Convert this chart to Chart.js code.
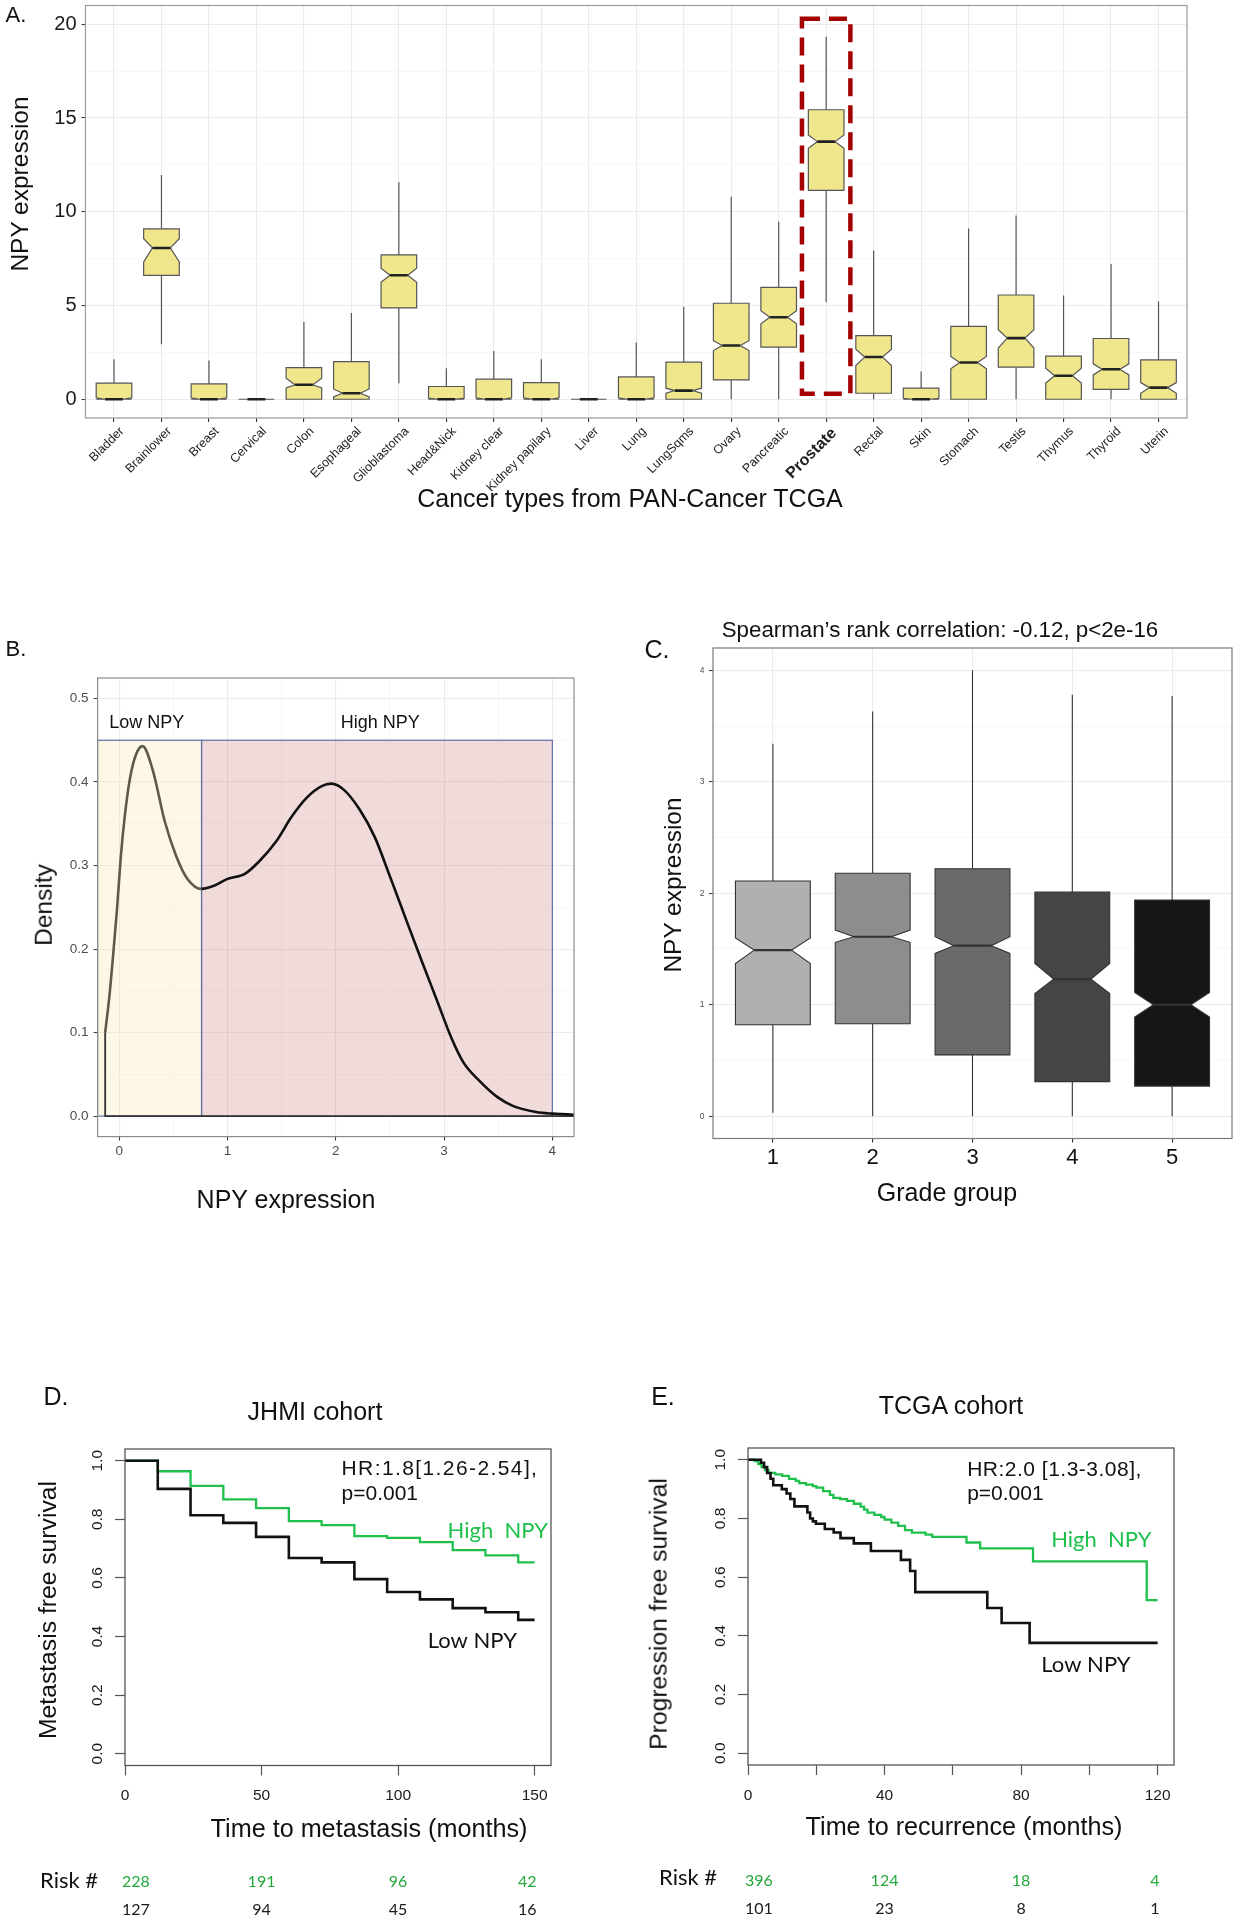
<!DOCTYPE html>
<html>
<head>
<meta charset="utf-8">
<script src="https://cdn.jsdelivr.net/npm/chart.js@4.4.1/dist/chart.umd.min.js"></script>
<style>
  html, body { margin: 0; padding: 0; background: #fff; }
  #page { position: relative; width: 1235px; height: 1920px; overflow: hidden;
          font-family: 'Liberation Sans', Arial, sans-serif; color: #111; }
  canvas { position: absolute; }
  .lbl { position: absolute; white-space: nowrap; line-height: 1; transform: translate(-50%, -50%); }
  .rot { transform: translate(-50%, -50%) rotate(-90deg); }
  .left { transform: translate(0, -50%); }
  .cal { font-family: Lato, 'Liberation Sans', sans-serif; }
</style>
</head>
<body>
<div id="page">
  <canvas id="chartA" width="1235" height="520" style="left:0;top:0"></canvas>
  <canvas id="chartB" width="620" height="600" style="left:0;top:600px"></canvas>
  <canvas id="chartC" width="615" height="600" style="left:620px;top:600px"></canvas>
  <canvas id="chartD" width="620" height="550" style="left:0;top:1370px"></canvas>
  <canvas id="chartE" width="615" height="550" style="left:620px;top:1370px"></canvas>

  <!-- panel A -->
  <div class="lbl" style="left:16px;top:15px;font-size:22px">A.</div>
  <div class="lbl rot" style="left:20px;top:184px;font-size:24.5px">NPY expression</div>
  <div class="lbl" style="left:630px;top:498px;font-size:25px">Cancer types from PAN-Cancer TCGA</div>

  <!-- panel B -->
  <div class="lbl" style="left:16px;top:649px;font-size:22px">B.</div>
  <div class="lbl rot" style="left:44px;top:905px;font-size:24.5px">Density</div>
  <div class="lbl" style="left:286px;top:1199px;font-size:25px">NPY expression</div>

  <!-- panel C -->
  <div class="lbl" style="left:657px;top:649px;font-size:25px">C.</div>
  <div class="lbl" style="left:940px;top:630px;font-size:22.3px">Spearman’s rank correlation: -0.12, p&lt;2e-16</div>
  <div class="lbl rot" style="left:673px;top:885px;font-size:24.5px">NPY expression</div>
  <div class="lbl" style="left:947px;top:1192px;font-size:25px">Grade group</div>

  <!-- panel D -->
  <div class="lbl" style="left:56px;top:1396px;font-size:25px">D.</div>
  <div class="lbl" style="left:315px;top:1411px;font-size:25px">JHMI cohort</div>
  <div class="lbl rot" style="left:48px;top:1610px;font-size:24.7px">Metastasis free survival</div>
  <div class="lbl" style="left:369px;top:1829px;font-size:25.2px">Time to metastasis (months)</div>
  <div class="lbl left cal" style="left:40px;top:1880px;font-size:22px">Risk #</div>

  <!-- panel E -->
  <div class="lbl" style="left:663px;top:1396px;font-size:25px">E.</div>
  <div class="lbl" style="left:951px;top:1405px;font-size:25px">TCGA cohort</div>
  <div class="lbl rot" style="left:659px;top:1614px;font-size:24.7px">Progression free survival</div>
  <div class="lbl" style="left:964px;top:1827px;font-size:25.2px">Time to recurrence (months)</div>
  <div class="lbl left cal" style="left:659px;top:1877px;font-size:22px">Risk #</div>
</div>

<script>
// ---------- A: NPY expression across cancer types ----------
const cancerTypes = ['Bladder', 'Brainlower', 'Breast', 'Cervical', 'Colon', 'Esophageal', 'Glioblastoma',
  'Head&Nick', 'Kidney clear', 'Kidney papilary', 'Liver', 'Lung', 'LungSqms', 'Ovary', 'Pancreatic',
  'Prostate', 'Rectal', 'Skin', 'Stomach', 'Testis', 'Thymus', 'Thyroid', 'Uterin'];
const aWhiskerLow  = [0, 2.94, 0, 0, 0, 0, 0.86, 0, 0, 0, 0, 0, 0, 0, 0, 5.17, 0, 0, 0, 0, 0, 0, 0];
const aQ1          = [0, 6.61, 0, 0, 0, 0, 4.87, 0, 0, 0, 0, 0, 0, 1.03, 2.78, 11.14, 0.32, 0, 0, 1.71, 0, 0.53, 0];
const aNotchLow    = [0, 7.33, 0, 0, 0.6, 0.12, 6.24, 0, 0, 0, 0, 0, 0.32, 2.6, 4.03, 13.39, 1.8, 0, 1.62, 2.73, 0.86, 1.3, 0.32];
const aMedian      = [0, 8.07, 0, 0, 0.77, 0.32, 6.61, 0, 0, 0, 0, 0, 0.46, 2.87, 4.37, 13.74, 2.25, 0, 1.96, 3.26, 1.25, 1.6, 0.62];
const aNotchHigh   = [0.08, 8.56, 0.08, 0, 1.12, 0.55, 6.99, 0.06, 0.08, 0.08, 0, 0.08, 0.59, 3.12, 4.72, 14.1, 2.67, 0.05, 2.28, 3.71, 1.66, 1.89, 0.89];
const aQ3          = [0.86, 9.09, 0.82, 0, 1.69, 2.01, 7.7, 0.68, 1.07, 0.89, 0, 1.19, 1.98, 5.12, 5.97, 15.44, 3.39, 0.59, 3.89, 5.56, 2.3, 3.24, 2.1];
const aWhiskerHigh = [2.14, 11.96, 2.07, 0, 4.12, 4.6, 11.57, 1.66, 2.58, 2.14, 0, 3.03, 4.94, 10.8, 9.47, 19.34, 7.93, 1.48, 9.11, 9.8, 5.53, 7.22, 5.22];
const aTicksY = [0, 2.5, 5, 7.5, 10, 12.5, 15, 17.5, 20];
const highlightType = 'Prostate';
const highlightRange = [0.3, 20.3];

// ---------- B: density of NPY expression ----------
const densityX = [-0.13, -0.09, -0.057, -0.02, 0.014, 0.05, 0.10, 0.155, 0.215, 0.31, 0.42, 0.53, 0.63, 0.76,
  0.88, 1.0, 1.16, 1.3, 1.45, 1.59, 1.73, 1.87, 1.96, 2.08, 2.22, 2.36, 2.5, 2.65, 2.79, 2.93, 3.07, 3.18,
  3.32, 3.49, 3.64, 3.85, 4.0, 4.3];
const densityY = [0.10, 0.145, 0.192, 0.249, 0.31, 0.358, 0.405, 0.433, 0.443, 0.414, 0.353, 0.31, 0.284, 0.272,
  0.276, 0.284, 0.29, 0.306, 0.329, 0.358, 0.381, 0.395, 0.398, 0.39, 0.367, 0.334, 0.287, 0.235, 0.187, 0.14, 0.093, 0.064,
  0.043, 0.023, 0.012, 0.005, 0.003, 0.001];
const densityEdgeX = [-0.13, -0.13, 4.3];
const densityEdgeY = [0.10, 0, 0];
const npyCutoff = 0.76;
const npyRegionEnd = 4.0;
const npyRegionTop = 0.45;
const bTicksX = [0, 0.5, 1, 1.5, 2, 2.5, 3, 3.5, 4];
const bTicksY = [0, 0.05, 0.1, 0.15, 0.2, 0.25, 0.3, 0.35, 0.4, 0.45, 0.5];

// ---------- C: NPY expression by grade group ----------
const gradeGroups  = ['1', '2', '3', '4', '5'];
const cWhiskerLow  = [0.03, 0, 0, 0, 0];
const cQ1          = [0.82, 0.83, 0.55, 0.31, 0.27];
const cNotchLow    = [1.37, 1.56, 1.46, 1.10, 0.89];
const cMedian      = [1.49, 1.61, 1.53, 1.23, 1.0];
const cNotchHigh   = [1.60, 1.67, 1.61, 1.37, 1.11];
const cQ3          = [2.11, 2.18, 2.22, 2.01, 1.94];
const cWhiskerHigh = [3.34, 3.63, 4.0, 3.78, 3.77];
const cTicksY = [0, 0.5, 1, 1.5, 2, 2.5, 3, 3.5, 4];

// ---------- D: JHMI cohort ----------
const dMonths    = [0, 12, 24, 36, 48, 60, 72, 84, 96, 108, 120, 132, 144, 150];
const dSurvLow   = [1.0, 0.904, 0.814, 0.788, 0.74, 0.668, 0.653, 0.596, 0.552, 0.527, 0.497, 0.483, 0.457, 0.457];
const dSurvHigh  = [1.0, 0.964, 0.914, 0.868, 0.838, 0.794, 0.78, 0.743, 0.737, 0.722, 0.695, 0.677, 0.653, 0.653];
const dRiskMonths = [0, 50, 100, 150];
const dRiskHigh  = [228, 191, 96, 42];
const dRiskLow   = [127, 94, 45, 16];
const dTicksX = [0, 50, 100, 150];

// ---------- E: TCGA cohort ----------
const eMonthsLow = [0, 3.8, 4.7, 5.6, 6.6, 7.4, 9.9, 11.3, 12.4, 13.6, 17.4, 18.2, 19.0, 19.9, 22.5, 25.1, 27.1,
  31.0, 36.0, 44.8, 47.5, 49.0, 70.1, 74.3, 82.5, 120];
const eSurvLow   = [1.0, 0.99, 0.975, 0.955, 0.935, 0.913, 0.9, 0.885, 0.866, 0.841, 0.82, 0.8, 0.79, 0.782, 0.764,
  0.752, 0.733, 0.715, 0.689, 0.659, 0.621, 0.549, 0.495, 0.444, 0.376, 0.376];
const eMonthsHigh = [0, 2, 3, 4, 5, 6, 8, 10, 12, 14, 15, 17, 19, 20, 22, 24, 25, 27, 29, 31, 33, 34, 35, 37, 39,
  40, 42, 44, 46, 48, 52, 54, 64, 68, 83.5, 116.8, 120];
const eSurvHigh  = [1.0, 0.995, 0.985, 0.975, 0.965, 0.955, 0.95, 0.945, 0.935, 0.928, 0.92, 0.915, 0.91, 0.905,
  0.893, 0.88, 0.87, 0.866, 0.86, 0.85, 0.84, 0.83, 0.82, 0.812, 0.805, 0.796, 0.786, 0.775, 0.76, 0.752, 0.745,
  0.737, 0.718, 0.698, 0.654, 0.522, 0.522];
const eRiskMonths = [0, 40, 80, 120];
const eRiskHigh  = [396, 124, 18, 4];
const eRiskLow   = [101, 23, 8, 1];
const eTicksX = [0, 20, 40, 60, 80, 100, 120];
const kmTicksY = [0, 0.2, 0.4, 0.6, 0.8, 1.0];

// ---------- shared styling ----------
const SANS = "'Liberation Sans', Arial, sans-serif";
const CAL = "Lato, 'Liberation Sans', sans-serif";
const KM_GREEN = '#1fc04c';
const RISK_GREEN = '#24a83c';
const GRID_MAJOR = '#ebebeb';
const GRID_MINOR = '#f4f4f4';

Chart.defaults.font.family = SANS;
Chart.defaults.animation = false;
Chart.defaults.plugins.legend.display = false;
Chart.defaults.plugins.tooltip.enabled = false;

// fixed axis box so the plot area lands where the figure has it
function fixedAxis(size) {
  return function (scale) {
    if (scale.isHorizontal()) scale.height = size; else scale.width = size;
    scale.paddingLeft = scale.paddingRight = scale.paddingTop = scale.paddingBottom = 0;
  };
}
function setTicks(values) {
  return function (scale) { scale.ticks = values.map(v => ({ value: v })); };
}
const isStep = (v, step) => Math.abs(v / step - Math.round(v / step)) < 1e-6;

function framePlugin(color, width) {
  return {
    id: 'frame',
    afterDatasetsDraw(chart) {
      const { ctx, chartArea: a } = chart;
      ctx.save();
      ctx.strokeStyle = color;
      ctx.lineWidth = width;
      ctx.strokeRect(a.left, a.top, a.right - a.left, a.bottom - a.top);
      ctx.restore();
    }
  };
}

// notched box plots, like ggplot geom_boxplot(notch = TRUE)
function boxPlugin(xs, s, fills, style) {
  return {
    id: 'notchedBoxes',
    beforeDatasetsDraw(chart) {
      const { ctx, chartArea: a, scales: { x, y } } = chart;
      const py = v => y.getPixelForValue(v);
      ctx.save();
      ctx.beginPath();
      ctx.rect(a.left, a.top, a.right - a.left, a.bottom - a.top);
      ctx.clip();
      xs.forEach((xv, i) => {
        const cx = x.getPixelForValue(xv);
        const xl = x.getPixelForValue(xv - style.width / 2);
        const xr = x.getPixelForValue(xv + style.width / 2);
        const ind = (xr - xl) * 0.25;

        ctx.lineWidth = style.lineWidth;
        ctx.strokeStyle = style.whisker;
        ctx.beginPath();
        ctx.moveTo(cx, py(s.q3[i])); ctx.lineTo(cx, py(s.whiskerHigh[i]));
        ctx.moveTo(cx, py(s.q1[i])); ctx.lineTo(cx, py(s.whiskerLow[i]));
        ctx.stroke();

        ctx.beginPath();
        ctx.moveTo(xl, py(s.q3[i]));
        ctx.lineTo(xl, py(s.notchHigh[i]));
        ctx.lineTo(xl + ind, py(s.median[i]));
        ctx.lineTo(xl, py(s.notchLow[i]));
        ctx.lineTo(xl, py(s.q1[i]));
        ctx.lineTo(xr, py(s.q1[i]));
        ctx.lineTo(xr, py(s.notchLow[i]));
        ctx.lineTo(xr - ind, py(s.median[i]));
        ctx.lineTo(xr, py(s.notchHigh[i]));
        ctx.lineTo(xr, py(s.q3[i]));
        ctx.closePath();
        ctx.fillStyle = fills[i];
        ctx.fill();
        ctx.strokeStyle = style.border;
        ctx.stroke();

        ctx.beginPath();
        ctx.moveTo(xl + ind, py(s.median[i]));
        ctx.lineTo(xr - ind, py(s.median[i]));
        ctx.lineWidth = style.medianWidth;
        ctx.strokeStyle = style.median;
        ctx.stroke();
      });
      ctx.restore();
    }
  };
}

function notesPlugin(notes) {
  return {
    id: 'notes',
    afterDatasetsDraw(chart) {
      const { ctx, scales: { x, y } } = chart;
      ctx.save();
      ctx.textBaseline = 'middle';
      notes.forEach(n => {
        ctx.font = n.font;
        ctx.fillStyle = n.color;
        ctx.textAlign = n.align;
        ctx.letterSpacing = n.spacing || '0px';
        ctx.fillText(n.text, x.getPixelForValue(n.x), y.getPixelForValue(n.y));
      });
      ctx.restore();
    }
  };
}

function riskPlugin(months, high, low) {
  return {
    id: 'riskTable',
    afterDraw(chart) {
      const { ctx, chartArea: a, scales: { x } } = chart;
      const last = months.length - 1;
      ctx.save();
      ctx.font = '16px ' + CAL;
      ctx.textBaseline = 'middle';
      months.forEach((m, i) => {
        ctx.textAlign = i === 0 ? 'left' : (i === last ? 'right' : 'center');
        const px = x.getPixelForValue(m) + (i === 0 ? -3 : (i === last ? 2 : 0));
        ctx.fillStyle = RISK_GREEN;
        ctx.fillText(String(high[i]), px, a.bottom + 116);
        ctx.fillStyle = '#1a1a1a';
        ctx.fillText(String(low[i]), px, a.bottom + 144);
      });
      ctx.restore();
    }
  };
}

// ggplot-like grid: lighter minor lines, tick marks only on majors
function ggGrid(step) {
  return {
    color: c => isStep(c.tick.value, step) ? GRID_MAJOR : GRID_MINOR,
    lineWidth: c => isStep(c.tick.value, step) ? 1.1 : 0.7,
    tickColor: c => isStep(c.tick.value, step) ? '#333' : 'rgba(0,0,0,0)',
    tickLength: 4,
    tickWidth: 1
  };
}

// ---------- chart A ----------
const highlightPlugin = {
  id: 'highlight',
  afterDatasetsDraw(chart) {
    const { ctx, scales: { x, y } } = chart;
    const i = cancerTypes.indexOf(highlightType);
    const l = x.getPixelForValue(i - 0.51), r = x.getPixelForValue(i + 0.51);
    const t = y.getPixelForValue(highlightRange[1]), b = y.getPixelForValue(highlightRange[0]);
    ctx.save();
    ctx.strokeStyle = '#a40000';
    ctx.lineWidth = 4.5;
    ctx.setLineDash([18, 9]);
    ctx.strokeRect(l, t, r - l, b - t);
    ctx.restore();
  }
};

new Chart(document.getElementById('chartA'), {
  type: 'scatter',
  data: {
    datasets: [{ label: 'median', data: aMedian.map((m, i) => ({ x: i, y: m })), pointRadius: 0, pointHoverRadius: 0 }]
  },
  options: {
    responsive: false,
    layout: { padding: { left: 0, top: 5.5, right: 48, bottom: 0 } },
    scales: {
      x: {
        type: 'linear', min: -0.6, max: cancerTypes.length - 0.4,
        afterBuildTicks: setTicks(cancerTypes.map((_, i) => i)),
        afterFit: fixedAxis(102),
        border: { display: false },
        grid: { color: GRID_MAJOR, lineWidth: 1.1, tickColor: '#333', tickLength: 4 },
        ticks: {
          autoSkip: false, minRotation: 45, maxRotation: 45, padding: 2, labelOffset: 8, color: '#222',
          callback: v => cancerTypes[v],
          font: c => cancerTypes[c.tick ? c.tick.value : -1] === highlightType
            ? { size: 16, weight: 'bold', family: SANS } : { size: 12.5, family: SANS }
        }
      },
      y: {
        min: -1, max: 21,
        afterBuildTicks: setTicks(aTicksY),
        afterFit: fixedAxis(85.5),
        border: { display: false },
        grid: ggGrid(5),
        ticks: { padding: 5, color: '#1a1a1a', font: { size: 20 }, callback: v => isStep(v, 5) ? v : '' }
      }
    }
  },
  plugins: [
    boxPlugin(cancerTypes.map((_, i) => i),
      { whiskerLow: aWhiskerLow, q1: aQ1, notchLow: aNotchLow, median: aMedian, notchHigh: aNotchHigh, q3: aQ3, whiskerHigh: aWhiskerHigh },
      cancerTypes.map(() => '#f0e68c'),
      { width: 0.75, lineWidth: 1.2, whisker: '#555', border: '#555', median: '#222', medianWidth: 2.6 }),
    highlightPlugin,
    framePlugin('#9a9a9a', 1.2)
  ]
});

// ---------- chart B ----------
const regionPlugin = {
  id: 'regions',
  beforeDatasetsDraw(chart) {
    const { ctx, scales: { x, y } } = chart;
    const top = y.getPixelForValue(npyRegionTop), bottom = y.getPixelForValue(0);
    const zones = [
      { from: x.getPixelForValue(x.min), to: x.getPixelForValue(npyCutoff), fill: 'rgba(250,232,170,0.30)' },
      { from: x.getPixelForValue(npyCutoff), to: x.getPixelForValue(npyRegionEnd), fill: 'rgba(195,107,107,0.25)' }
    ];
    ctx.save();
    zones.forEach(z => {
      ctx.fillStyle = z.fill;
      ctx.fillRect(z.from, top, z.to - z.from, bottom - top);
      ctx.strokeStyle = '#5b6ea6';
      ctx.lineWidth = 1.2;
      ctx.strokeRect(z.from, top, z.to - z.from, bottom - top);
    });
    ctx.restore();
  }
};

new Chart(document.getElementById('chartB'), {
  type: 'scatter',
  data: {
    datasets: [
      {
        label: 'density', data: densityX.map((v, i) => ({ x: v, y: densityY[i] })),
        showLine: true, pointRadius: 0, borderWidth: 2.6, borderColor: '#111',
        cubicInterpolationMode: 'monotone',
        segment: { borderColor: c => c.p0.parsed.x < npyCutoff - 0.001 ? '#5d5a4b' : '#111' }
      },
      {
        label: 'edge', data: densityEdgeX.map((v, i) => ({ x: v, y: densityEdgeY[i] })),
        showLine: true, pointRadius: 0, borderWidth: 1.8, borderColor: '#333'
      }
    ]
  },
  options: {
    responsive: false,
    layout: { padding: { left: 0, top: 78, right: 46, bottom: 0 } },
    scales: {
      x: {
        type: 'linear', min: -0.2, max: 4.2,
        afterBuildTicks: setTicks(bTicksX),
        afterFit: fixedAxis(63.4),
        border: { display: false },
        grid: ggGrid(1),
        ticks: { padding: 3, color: '#4d4d4d', font: { size: 13.5 }, callback: v => isStep(v, 1) ? v : '' }
      },
      y: {
        min: -0.0245, max: 0.5245,
        afterBuildTicks: setTicks(bTicksY),
        afterFit: fixedAxis(97.6),
        border: { display: false },
        grid: ggGrid(0.1),
        ticks: { padding: 5, color: '#4d4d4d', font: { size: 13.5 }, callback: v => isStep(v, 0.1) ? v.toFixed(1) : '' }
      }
    }
  },
  plugins: [
    regionPlugin,
    notesPlugin([
      { text: 'Low NPY', x: 0.254, y: 0.47, font: '18px ' + SANS, color: '#111', align: 'center' },
      { text: 'High NPY', x: 2.41, y: 0.47, font: '18px ' + SANS, color: '#111', align: 'center' }
    ]),
    framePlugin('#8c8c8c', 1.2)
  ]
});

// ---------- chart C ----------
new Chart(document.getElementById('chartC'), {
  type: 'scatter',
  data: {
    datasets: [{ label: 'median', data: cMedian.map((m, i) => ({ x: i + 1, y: m })), pointRadius: 0, pointHoverRadius: 0 }]
  },
  options: {
    responsive: false,
    layout: { padding: { left: 0, top: 48, right: 3, bottom: 0 } },
    scales: {
      x: {
        type: 'linear', min: 0.4, max: 5.6,
        afterBuildTicks: setTicks(gradeGroups.map((_, i) => i + 1)),
        afterFit: fixedAxis(61.5),
        border: { display: false },
        grid: { color: GRID_MAJOR, lineWidth: 1.1, tickColor: '#333', tickLength: 4 },
        ticks: { padding: 2, color: '#111', font: { size: 22 }, callback: v => gradeGroups[v - 1] }
      },
      y: {
        min: -0.2, max: 4.2,
        afterBuildTicks: setTicks(cTicksY),
        afterFit: fixedAxis(93),
        border: { display: false },
        grid: ggGrid(1),
        ticks: { padding: 4.5, color: '#4d4d4d', font: { size: 8.5 }, callback: v => isStep(v, 1) ? v : '' }
      }
    }
  },
  plugins: [
    boxPlugin(gradeGroups.map((_, i) => i + 1),
      { whiskerLow: cWhiskerLow, q1: cQ1, notchLow: cNotchLow, median: cMedian, notchHigh: cNotchHigh, q3: cQ3, whiskerHigh: cWhiskerHigh },
      ['#b0b0b0', '#8d8d8d', '#6a6a6a', '#454545', '#161616'],
      { width: 0.75, lineWidth: 1.1, whisker: '#333', border: '#333', median: '#333', medianWidth: 2.2 }),
    framePlugin('#7a7a7a', 1.2)
  ]
});

// ---------- charts D and E (Kaplan-Meier) ----------
function kmChart(id, cfg) {
  return new Chart(document.getElementById(id), {
    type: 'scatter',
    data: {
      datasets: [
        {
          label: 'Low NPY', data: cfg.lowX.map((m, i) => ({ x: m, y: cfg.lowY[i] })),
          showLine: true, stepped: 'before', pointRadius: 0, borderWidth: 2.6, borderColor: '#111'
        },
        {
          label: 'High NPY', data: cfg.highX.map((m, i) => ({ x: m, y: cfg.highY[i] })),
          showLine: true, stepped: 'before', pointRadius: 0, borderWidth: 2.3, borderColor: KM_GREEN
        }
      ]
    },
    options: {
      responsive: false,
      layout: { padding: cfg.padding },
      scales: {
        x: {
          type: 'linear', min: 0, max: cfg.xMax,
          afterBuildTicks: setTicks(cfg.ticksX),
          afterFit: fixedAxis(cfg.xHeight),
          border: { display: false },
          grid: { drawOnChartArea: false, tickLength: 10, tickColor: '#555', tickWidth: 1.2 },
          ticks: { padding: 11, color: '#1a1a1a', font: { size: 15.5 }, callback: v => isStep(v, cfg.labelStep) ? v : '' }
        },
        y: {
          min: -0.04, max: 1.04,
          afterBuildTicks: setTicks(kmTicksY),
          afterFit: fixedAxis(cfg.yWidth),
          border: { display: false },
          grid: { drawOnChartArea: false, tickLength: 10, tickColor: '#555', tickWidth: 1.2 },
          ticks: {
            padding: 7, color: '#1a1a1a', font: { size: 15.5 }, minRotation: 90, maxRotation: 90,
            crossAlign: 'center', callback: v => v.toFixed(1)
          }
        }
      }
    },
    plugins: [
      notesPlugin(cfg.notes),
      riskPlugin(cfg.riskMonths, cfg.riskHigh, cfg.riskLow),
      framePlugin('#555', 1.3)
    ]
  });
}

kmChart('chartD', {
  lowX: dMonths, lowY: dSurvLow, highX: dMonths, highY: dSurvHigh,
  xMax: 156, ticksX: dTicksX, labelStep: 50,
  padding: { left: 0, top: 79, right: 69, bottom: 0 }, xHeight: 154.5, yWidth: 125,
  riskMonths: dRiskMonths, riskHigh: dRiskHigh, riskLow: dRiskLow,
  notes: [
    { text: 'HR:1.8[1.26-2.54],', x: 79.3, y: 0.971, font: '21px ' + SANS, color: '#111', align: 'left', spacing: '1.4px' },
    { text: 'p=0.001', x: 79.3, y: 0.885, font: '21px ' + SANS, color: '#111', align: 'left' },
    { text: 'High  NPY', x: 136.5, y: 0.761, font: '22px ' + CAL, color: KM_GREEN, align: 'center' },
    { text: 'Low NPY', x: 127.2, y: 0.385, font: '22px ' + CAL, color: '#111', align: 'center' }
  ]
});

kmChart('chartE', {
  lowX: eMonthsLow, lowY: eSurvLow, highX: eMonthsHigh, highY: eSurvHigh,
  xMax: 124.8, ticksX: eTicksX, labelStep: 40,
  padding: { left: 0, top: 78, right: 61, bottom: 0 }, xHeight: 155, yWidth: 128,
  riskMonths: eRiskMonths, riskHigh: eRiskHigh, riskLow: eRiskLow,
  notes: [
    { text: 'HR:2.0 [1.3-3.08],', x: 64.2, y: 0.966, font: '21px ' + SANS, color: '#111', align: 'left', spacing: '0.5px' },
    { text: 'p=0.001', x: 64.2, y: 0.881, font: '21px ' + SANS, color: '#111', align: 'left' },
    { text: 'High  NPY', x: 103.5, y: 0.726, font: '22px ' + CAL, color: KM_GREEN, align: 'center' },
    { text: 'Low NPY', x: 99.0, y: 0.300, font: '22px ' + CAL, color: '#111', align: 'center' }
  ]
});
</script>
</body>
</html>
